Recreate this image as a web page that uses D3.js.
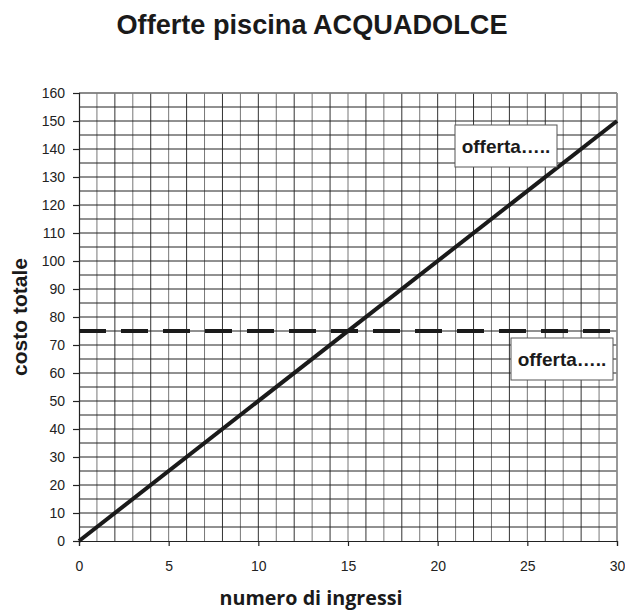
<!DOCTYPE html>
<html><head><meta charset="utf-8">
<script src="https://cdn.jsdelivr.net/npm/d3@7"></script>
<style>body{margin:0;background:#fff}svg{display:block}</style>
</head><body>
<svg id="c" width="625" height="613"></svg>
<script>
const title = "Offerte piscina ACQUADOLCE";
const xTitle = "numero di ingressi";
const yTitle = "costo totale";
const xTicks = [0,5,10,15,20,25,30];
const yTicks = [0,10,20,30,40,50,60,70,80,90,100,110,120,130,140,150,160];
const ingressiA = [0, 30];
const costoA = [0, 150];
const ingressiB = [0, 30];
const costoB = [75, 75];
const labelA = "offerta…..";
const labelB = "offerta…..";

const svg = d3.select("#c");
const L = 79, R = 617, T = 93, B = 541;
const x = d3.scaleLinear().domain([0,30]).range([L,R]);
const y = d3.scaleLinear().domain([0,160]).range([B,T]);
const FF = "Liberation Sans, Arial, sans-serif";

// grid
const g = svg.append("g");
g.selectAll(".vx").data(d3.range(1,31)).join("line")
  .attr("x1", d=>x(d)).attr("x2", d=>x(d)).attr("y1", T).attr("y2", B)
  .attr("stroke", d => d%2 ? "#777" : "#333").attr("stroke-width", 1);
g.selectAll(".hy").data(d3.range(5,161,5)).join("line")
  .attr("x1", L).attr("x2", R).attr("y1", d=>y(d)).attr("y2", d=>y(d))
  .attr("stroke", "#222").attr("stroke-width", 1);
g.append("line").attr("x1",L).attr("x2",R).attr("y1",T).attr("y2",T).attr("stroke","#888").attr("stroke-width",1.5);
g.append("line").attr("x1",R).attr("x2",R).attr("y1",T).attr("y2",B).attr("stroke","#999").attr("stroke-width",1.5);

// axes
const ax = svg.append("g").attr("transform",`translate(0,${B})`)
  .call(d3.axisBottom(x).tickValues(xTicks).tickSize(5).tickPadding(15));
const ay = svg.append("g").attr("transform",`translate(${L},0)`)
  .call(d3.axisLeft(y).tickValues(yTicks).tickSize(6).tickPadding(8));
[ax, ay].forEach(a=>{
  a.select(".domain").attr("stroke","#222").attr("stroke-width",1.2);
  a.selectAll(".tick line").attr("stroke","#222").attr("stroke-width",1.2);
  a.selectAll("text").attr("font-family",FF).attr("font-size",14).attr("fill","#222");
});

// lines
const line = d3.line().x(d=>x(d[0])).y(d=>y(d[1]));
svg.append("path").datum(ingressiB.map((v,i)=>[v,costoB[i]]))
  .attr("d", line).attr("fill","none").attr("stroke","#1a1a1a")
  .attr("stroke-width",4).attr("stroke-dasharray","27,15");
svg.append("path").datum(ingressiA.map((v,i)=>[v,costoA[i]]))
  .attr("d", line).attr("fill","none").attr("stroke","#1a1a1a").attr("stroke-width",4);

// label boxes
function box(x0,y0,w,h,t){
  svg.append("rect").attr("x",x0).attr("y",y0).attr("width",w).attr("height",h)
    .attr("fill","#fff").attr("stroke","#555").attr("stroke-width",1);
  svg.append("text").attr("x",x0+w/2).attr("y",y0+h/2+7).attr("text-anchor","middle")
    .attr("font-family",FF).attr("font-weight","bold")
    .attr("font-size",19).attr("fill","#1a1a1a").text(t);
}
box(455,125,102,42,labelA);
box(511,338,102,42,labelB);

// titles
svg.append("text").attr("x",312).attr("y",34).attr("text-anchor","middle")
  .attr("font-family",FF).attr("font-weight","bold")
  .attr("font-size",28).attr("textLength",391).attr("lengthAdjust","spacingAndGlyphs")
  .attr("fill","#1a1a1a").text(title);
svg.append("text").attr("x",311).attr("y",605).attr("text-anchor","middle")
  .attr("font-family","Open Sans, sans-serif").attr("font-weight","bold")
  .attr("font-size",20).attr("textLength",183).attr("lengthAdjust","spacingAndGlyphs")
  .attr("fill","#1a1a1a").text(xTitle);
svg.append("text").attr("transform","translate(27,317) rotate(-90)").attr("text-anchor","middle")
  .attr("font-family",FF).attr("font-weight","bold")
  .attr("font-size",21).attr("fill","#1a1a1a").text(yTitle);
</script>
</body></html>
